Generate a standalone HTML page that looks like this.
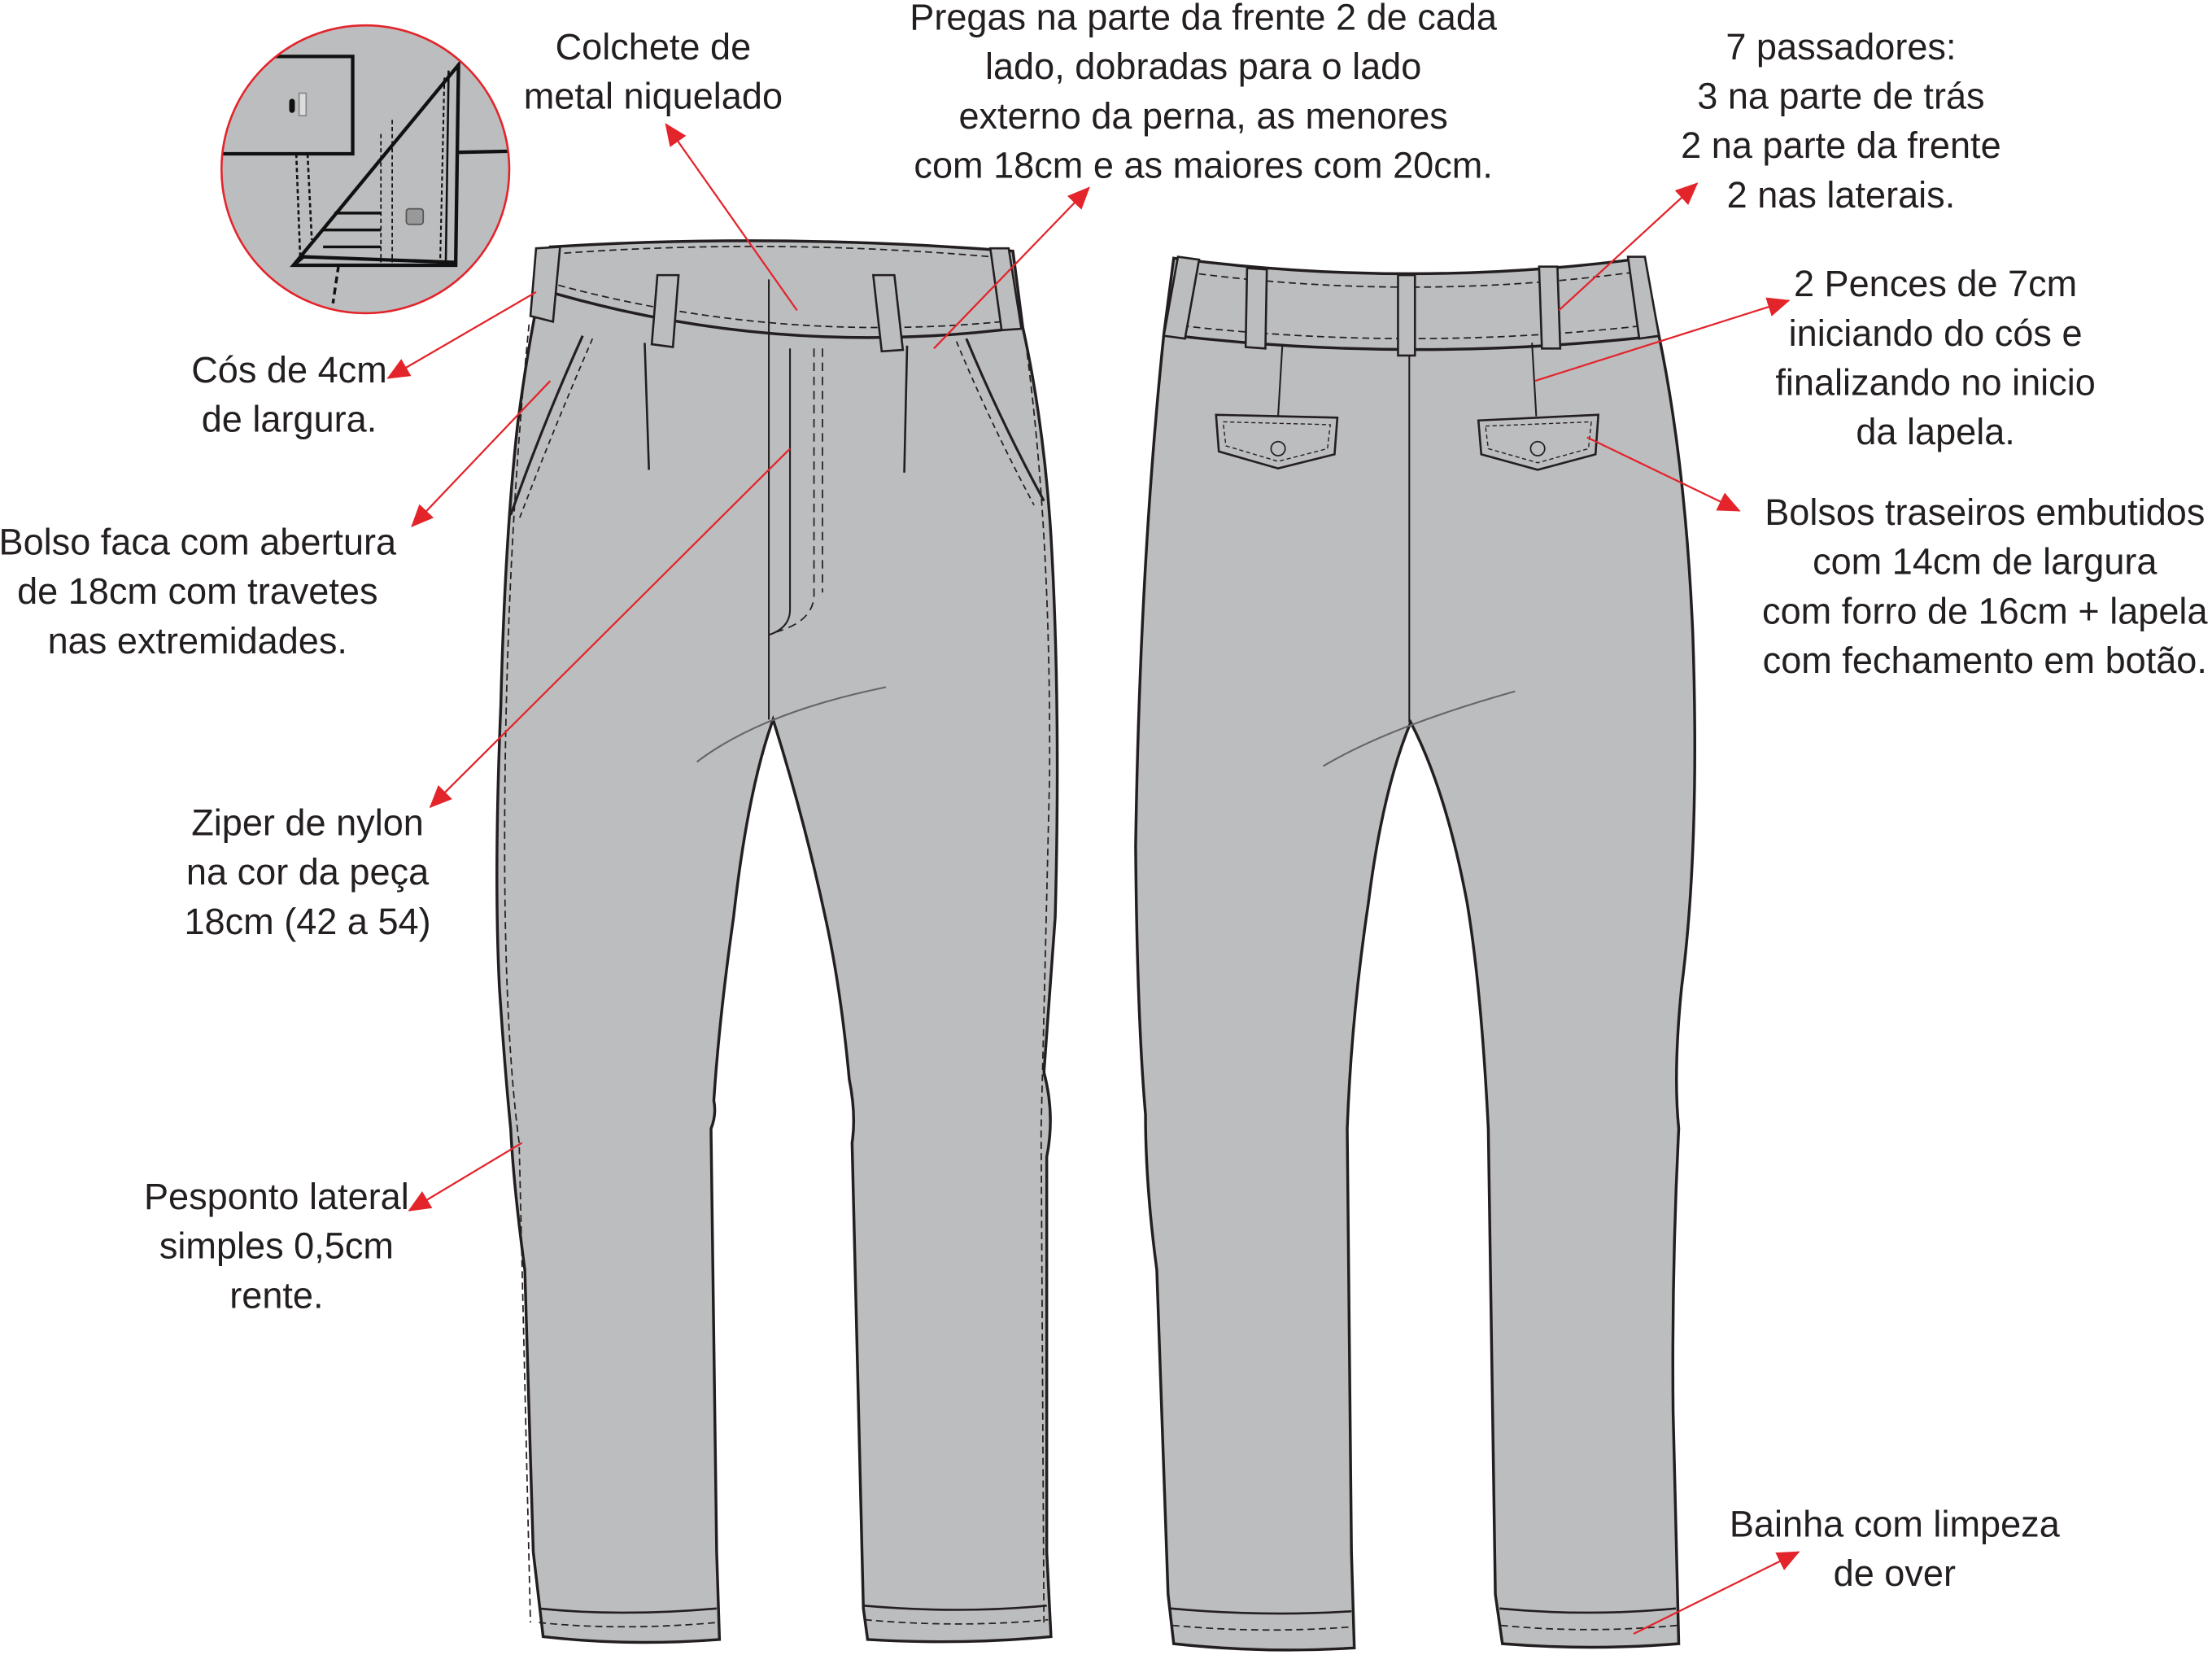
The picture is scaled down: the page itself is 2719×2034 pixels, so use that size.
<!DOCTYPE html>
<html><head><meta charset="utf-8"><style>
html,body{margin:0;padding:0;background:#fff;}
svg{display:block;}
text{font-family:"Liberation Sans",sans-serif;font-size:26px;fill:#231f20;text-anchor:middle;}
</style></head><body>
<svg width="2719" height="2034" viewBox="0 0 1568 1173" xmlns="http://www.w3.org/2000/svg">
<defs>
<marker id="ah2" markerWidth="16" markerHeight="14" refX="15" refY="7" orient="auto" markerUnits="userSpaceOnUse">
<path d="M0,0 L16,7 L0,14 z" fill="#e3242b"/>
</marker>
<clipPath id="cc"><circle cx="259" cy="120" r="102"/></clipPath>
</defs>

<g clip-path="url(#cc)">
<rect x="150" y="10" width="220" height="220" fill="#bcbdbf"/>
<path d="M150,40 L250,40 L250,109 L150,109" fill="none" stroke="#111" stroke-width="2.5"/>
<path d="M323,108 L370,107" stroke="#111" stroke-width="2.5"/>
<path d="M210,109 L213,188 M218,109 L221,170" stroke="#111" stroke-width="1.5" stroke-dasharray="3,2"/>
<path d="M208,188 L325,46 L323,188 Z" fill="#bcbdbf" stroke="#111" stroke-width="2.5"/>
<path d="M315,55 L312,186" stroke="#111" stroke-width="1.2" stroke-dasharray="3,2"/>
<path d="M278,85 L278,186 M270,95 L270,186" stroke="#111" stroke-width="1" stroke-dasharray="3,2"/>
<path d="M229,163 L270,163 M237,151 L270,151 M229,175 L270,175" stroke="#111" stroke-width="2"/>
<path d="M318,50 L316,186" stroke="#111" stroke-width="1.5"/>
<path d="M208,188 L215,182 L323,186" fill="none" stroke="#111" stroke-width="2.5"/>
<path d="M240,188 L236,215" stroke="#111" stroke-width="2" stroke-dasharray="5,3"/>
<rect x="205" y="70" width="4" height="10" rx="2" fill="#111"/>
<rect x="212" y="66" width="5" height="16" fill="#ddd" stroke="#888"/>
<rect x="288" y="148" width="12" height="11" rx="2" fill="#999" stroke="#555"/>
</g>
<circle cx="259" cy="120" r="102" fill="none" stroke="#e3242b" stroke-width="1.5"/>

<path d="M383,205 L390,175 Q550,165 718,178 L725,232 Q740,300 745,380 Q752,500 748,650 Q742,730 740,760 Q748,790 742,820 L742,1100 L745,1160 Q680,1166 615,1162 L612,1140 Q608,1000 604,810 Q607,790 602,765 Q596,700 585,650 Q570,580 548,510 Q530,560 520,650 Q510,720 506,780 Q508,790 504,800 L508,1100 L510,1162 Q445,1167 385,1160 L378,1100 L372,900 Q364,840 362,800 Q358,760 354,700 Q350,620 355,500 Q358,380 367,300 Q375,240 383,205 Z" fill="#bcbdbf" stroke="#231f20" stroke-width="2"/>
<path d="M383,205 Q550,255 725,232" fill="none" stroke="#231f20" stroke-width="2"/>
<path d="M392,180 Q550,168 714,183 M388,200 Q550,245 720,227" fill="none" stroke="#231f20" stroke-width="1" stroke-dasharray="5,3"/>
<g fill="#bcbdbf" stroke="#231f20" stroke-width="1.5">
<path d="M380,176 L397,175 L392,228 L376,224 Z"/>
<path d="M466,195 L481,195 L477,246 L462,244 Z"/>
<path d="M619,195 L634,195 L640,248 L625,249 Z"/>
<path d="M702,176 L715,176 L724,233 L710,234 Z"/>
</g>
<path d="M545,198 L545,510 M560,247 L560,432 Q560,445 545,450" fill="none" stroke="#231f20" stroke-width="1.2"/>
<path d="M577,247 L577,420 Q578,440 550,448 M583,247 L583,420" fill="none" stroke="#231f20" stroke-width="1" stroke-dasharray="6,4"/>
<path d="M457,243 L460,333 M643,245 L641,335" stroke="#231f20" stroke-width="1.5"/>
<path d="M413,238 Q385,300 362,365 M685,240 Q710,300 740,355" fill="none" stroke="#231f20" stroke-width="1.8"/>
<path d="M420,240 Q392,305 368,368 M678,242 Q702,300 733,358" fill="none" stroke="#231f20" stroke-width="1" stroke-dasharray="4,3"/>
<path d="M375,230 Q360,380 358,550 Q356,720 368,810 L376,1150 M728,250 Q745,380 744,550 Q740,720 738,800 L740,1150" fill="none" stroke="#231f20" stroke-width="1" stroke-dasharray="5,3"/>
<path d="M494,540 Q540,505 628,487" fill="none" stroke="#666" stroke-width="1.2"/>
<path d="M382,1140 Q440,1146 508,1140 M612,1138 Q680,1144 742,1138" fill="none" stroke="#231f20" stroke-width="1.5"/>
<path d="M382,1150 Q440,1156 508,1150 M613,1148 Q680,1154 743,1148" fill="none" stroke="#231f20" stroke-width="1" stroke-dasharray="5,3"/>

<path d="M825,237 L832,183 Q1000,205 1165,183 L1176,238 Q1195,330 1200,450 Q1205,600 1192,700 Q1186,760 1190,800 Q1185,900 1186,1000 L1190,1165 Q1128,1170 1065,1165 L1060,1130 Q1058,960 1055,800 Q1050,700 1040,640 Q1025,560 1000,512 Q980,560 970,640 Q958,720 955,800 L958,1100 L960,1168 Q895,1172 832,1165 L828,1130 L820,900 Q812,840 812,790 Q806,720 805,600 Q808,400 825,237 Z" fill="#bcbdbf" stroke="#231f20" stroke-width="2"/>
<path d="M825,237 Q1000,258 1176,238" fill="none" stroke="#231f20" stroke-width="2"/>
<path d="M834,192 Q1000,215 1165,192 M830,230 Q1000,250 1172,230" fill="none" stroke="#231f20" stroke-width="1" stroke-dasharray="5,3"/>
<g fill="#bcbdbf" stroke="#231f20" stroke-width="1.5">
<path d="M835,182 L850,184 L840,240 L825,238 Z"/>
<path d="M884,190 L898,191 L897,247 L883,246 Z"/>
<path d="M991,195 L1003,195 L1003,252 L991,252 Z"/>
<path d="M1091,189 L1104,189 L1106,247 L1093,247 Z"/>
<path d="M1154,182 L1166,182 L1176,238 L1162,240 Z"/>
</g>
<path d="M999,252 L999,512" stroke="#231f20" stroke-width="1.2"/>
<path d="M909,245 L906,295 M1086,243 L1089,295" stroke="#231f20" stroke-width="1.2"/>
<path d="M862,294 L948,296 L946,322 L906,332 L864,320 Z M1048,298 L1133,294 L1131,322 L1090,333 L1050,322 Z" fill="#bcbdbf" stroke="#231f20" stroke-width="1.5"/>
<path d="M867,299 L943,301 L941,318 L906,327 L869,316 Z M1053,302 L1128,299 L1126,318 L1090,328 L1055,318 Z" fill="none" stroke="#231f20" stroke-width="0.8" stroke-dasharray="3,2"/>
<circle cx="906" cy="318" r="5" fill="#bcbdbf" stroke="#231f20"/>
<circle cx="1090" cy="318" r="5" fill="#bcbdbf" stroke="#231f20"/>
<path d="M938,543 Q985,515 1074,490" fill="none" stroke="#666" stroke-width="1.2"/>
<path d="M830,1140 Q895,1146 958,1142 M1063,1140 Q1125,1146 1188,1140" fill="none" stroke="#231f20" stroke-width="1.5"/>
<path d="M831,1152 Q895,1158 959,1153 M1064,1152 Q1125,1158 1189,1152" fill="none" stroke="#231f20" stroke-width="1" stroke-dasharray="5,3"/>

<g stroke="#e3242b" stroke-width="1.3" fill="none" marker-end="url(#ah2)">
<line x1="565" y1="220" x2="472" y2="88"/>
<line x1="662" y1="247" x2="772" y2="133"/>
<line x1="380" y1="207" x2="275" y2="268"/>
<line x1="390" y1="270" x2="292" y2="373"/>
<line x1="560" y1="318" x2="305" y2="572"/>
<line x1="370" y1="810" x2="290" y2="858"/>
<line x1="1105" y1="220" x2="1203" y2="130"/>
<line x1="1088" y1="270" x2="1268" y2="213"/>
<line x1="1125" y1="310" x2="1233" y2="362"/>
<line x1="1158" y1="1158" x2="1275" y2="1100"/>
</g>

<text x="463" y="42">Colchete de</text>
<text x="463" y="77">metal niquelado</text>
<text x="853" y="21">Pregas na parte da frente 2 de cada</text>
<text x="853" y="56">lado, dobradas para o lado</text>
<text x="853" y="91">externo da perna, as menores</text>
<text x="853" y="126">com 18cm e as maiores com 20cm.</text>
<text x="1305" y="42">7 passadores:</text>
<text x="1305" y="77">3 na parte de trás</text>
<text x="1305" y="112">2 na parte da frente</text>
<text x="1305" y="147">2 nas laterais.</text>
<text x="1372" y="210">2 Pences de 7cm</text>
<text x="1372" y="245">iniciando do cós e</text>
<text x="1372" y="280">finalizando no inicio</text>
<text x="1372" y="315">da lapela.</text>
<text x="1407" y="372">Bolsos traseiros embutidos</text>
<text x="1407" y="407">com 14cm de largura</text>
<text x="1407" y="442">com forro de 16cm + lapela</text>
<text x="1407" y="477">com fechamento em botão.</text>
<text x="1343" y="1089">Bainha com limpeza</text>
<text x="1343" y="1124">de over</text>
<text x="205" y="271">Cós de 4cm</text>
<text x="205" y="306">de largura.</text>
<text x="140" y="393">Bolso faca com abertura</text>
<text x="140" y="428">de 18cm com travetes</text>
<text x="140" y="463">nas extremidades.</text>
<text x="218" y="592">Ziper de nylon</text>
<text x="218" y="627">na cor da peça</text>
<text x="218" y="662">18cm (42 a 54)</text>
<text x="196" y="857">Pesponto lateral</text>
<text x="196" y="892">simples 0,5cm</text>
<text x="196" y="927">rente.</text>
</svg>
</body></html>
